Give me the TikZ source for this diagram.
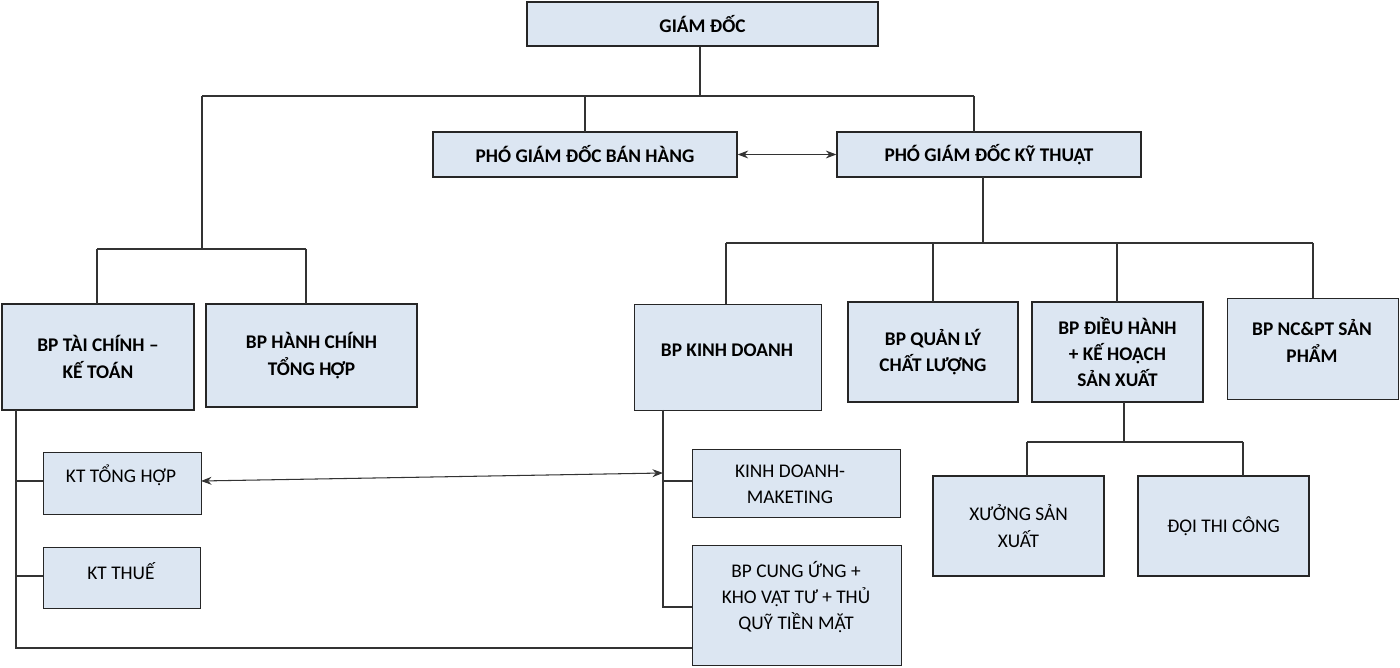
\documentclass[tikz,border=0pt]{standalone}
\usepackage{fontspec}
\setmainfont{Carlito}
\usetikzlibrary{arrows.meta}
\begin{document}
\begin{tikzpicture}[x=0.02cm,y=-0.02cm,
 bx/.style={draw=black!85,fill={rgb,255:red,220;green,230;blue,242},line width=0.7pt,align=center,font=\fontsize{11}{15}\selectfont},
 bb/.style={bx,font=\fontsize{11}{15}\selectfont\bfseries},
 ln/.style={draw=black!80,line width=0.6pt},
 dar/.style={ln,{Stealth[length=6pt]}-{Stealth[length=6pt]}}]
\useasboundingbox (0,0) rectangle (1400,668);
\newcommand{\bxat}[6]{\node[#1,minimum width={(#4-#2)*0.02cm},minimum height={(#5-#3)*0.02cm},inner sep=1pt] (#6) at ({(#2+#4)/2},{(#3+#5)/2})}
\bxat{bb}{527}{2}{878}{46}{gd} {GIÁM ĐỐC};
\bxat{bb}{433}{132}{737}{177}{pbh} {PHÓ GIÁM ĐỐC BÁN HÀNG};
\bxat{bb}{837}{132}{1141}{177}{pkt} {PHÓ GIÁM ĐỐC KỸ THUẬT};
\bxat{bb}{2}{304}{194}{410}{tc} {BP TÀI CHÍNH –\\KẾ TOÁN};
\bxat{bb}{206}{304}{417}{407}{hc} {BP HÀNH CHÍNH\\TỔNG HỢP};
\node[bb,minimum width=3.74cm,minimum height=2.12cm,inner sep=1pt,anchor=north west] (kd) at (634,304) {};
\node[font=\fontsize{11}{15}\selectfont\bfseries] at (727,350) {BP KINH DOANH};
\bxat{bb}{848}{302}{1018}{402}{ql} {BP QUẢN LÝ\\CHẤT LƯỢNG};
\bxat{bb}{1032}{302}{1203}{402}{dh} {BP ĐIỀU HÀNH\\+ KẾ HOẠCH\\SẢN XUẤT};
\node[bb,minimum width=3.42cm,minimum height=2.02cm,inner sep=1pt,anchor=north west] (nc) at (1227,298) {};
\node[font=\fontsize{11}{15}\selectfont\bfseries,align=center] at (1312,341) {BP NC\&PT SẢN\\PHẨM};
\node[bx,minimum width=3.16cm,minimum height=1.24cm,anchor=north west] (kth) at (43,452) {};
\node[font=\fontsize{11}{15}\selectfont] at (121,475) {KT TỔNG HỢP};
\node[bx,minimum width=3.14cm,minimum height=1.22cm,anchor=north west] (kthue) at (43,547) {};
\node[font=\fontsize{11}{15}\selectfont] at (121,571) {KT THUẾ};
\node[bx,minimum width=4.16cm,minimum height=1.36cm,anchor=north west] (mkt) at (692,449) {};
\node[font=\fontsize{11}{15}\selectfont,align=center] at (790,484) {KINH DOANH-\\MAKETING};
\node[bx,minimum width=4.18cm,minimum height=2.4cm,anchor=north west] (cu) at (692,545) {};
\node[font=\fontsize{11}{15}\selectfont,align=center] at (796,597) {BP CUNG ỨNG +\\KHO VẬT TƯ + THỦ\\QUỸ TIỀN MẶT};
\bxat{bx}{933}{476}{1104}{576}{xs} {XƯỞNG SẢN\\XUẤT};
\bxat{bx}{1138}{476}{1309}{576}{dtc} {ĐỘI THI CÔNG};
% top tree
\coordinate (j1) at (700,96);
\draw[ln] (gd.south -| j1) -- (j1);
\draw[ln] (202,96) -- (974,96);
\draw[ln] (585,96) -- (585,132);
\draw[ln] (974,96) -- (974,132);
\draw[ln] (202,96) -- (202,249);
\draw[ln] (97,249) -- (306,249);
\draw[ln] (97,249) -- (97,304);
\draw[ln] (306,249) -- (306,304);
% tech tree
\draw[ln] (983,177) -- (983,243);
\draw[ln] (726,243) -- (1313,243);
\draw[ln] (726,243) -- (726,304);
\draw[ln] (933,243) -- (933,302);
\draw[ln] (1117,243) -- (1117,302);
\draw[ln] (1313,243) -- (1313,298);
\draw[dar] (pbh.east) -- (pkt.west);
% finance
\draw[ln] (16,410) -- (16,648) -- (692,648);
\draw[ln] (16,481) -- (43,481);
\draw[ln] (16,576) -- (43,576);
\draw[dar] (201,481) -- (663,473);
% sales
\draw[ln] (663,410) -- (663,607) -- (692,607);
\draw[ln] (663,481) -- (692,481);
% production
\draw[ln] (1124,402) -- (1124,442);
\draw[ln] (1027,442) -- (1243,442);
\draw[ln] (1027,442) -- (1027,476);
\draw[ln] (1243,442) -- (1243,476);
\end{tikzpicture}
\end{document}
